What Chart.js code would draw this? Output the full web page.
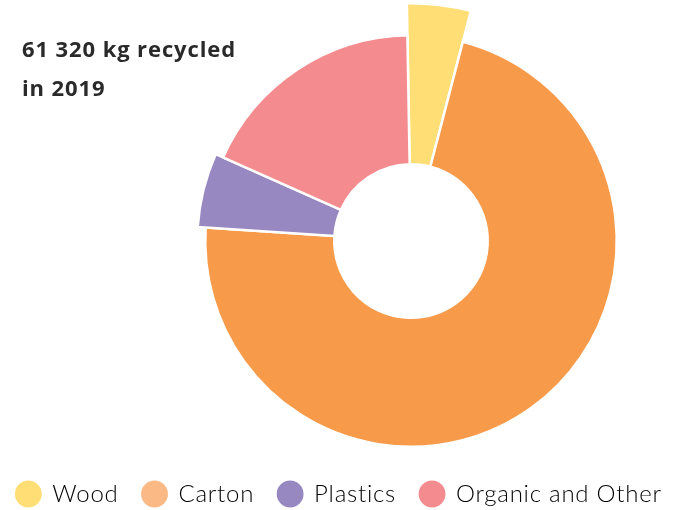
<!DOCTYPE html>
<html>
<head>
<meta charset="utf-8">
<script src="https://cdn.jsdelivr.net/npm/chart.js@4"></script>
<style>
  html, body { margin: 0; padding: 0; background: #fff; }
  #wrap { position: relative; width: 678px; height: 510px; }
  #title { position: absolute; left: 22px; top: 29px; font-family: "Open Sans", sans-serif; font-weight: 700;
           font-size: 22px; line-height: 39px; color: #2a2a2a; letter-spacing: 0.9px; white-space: nowrap; }
  canvas { position: absolute; left: 0; top: 0; }
</style>
</head>
<body>
<div id="wrap">
  <canvas id="c" width="678" height="510"></canvas>
  <div id="title">61 320 kg recycled<br>in 2019</div>
</div>
<script>
const categories = ['Wood', 'Carton', 'Plastics', 'Organic and Other'];
const recycledKg = [2655, 44150, 3440, 11075];

const sliceColors = ['#FFDF75', '#F79A4A', '#9888C2', '#F48C8F'];
const legendColors = ['#FFDF75', '#FBBA85', '#9888C2', '#F48C8F'];
const extraRadius = [32, 0, 8, 0];

const layoutPlugin = {
  id: 'centerShift',
  beforeUpdate(chart) { chart.ctx.letterSpacing = '0.75px'; },
  beforeDraw(chart) { chart.ctx.letterSpacing = '0.75px'; },
  afterLayout(chart) {
    const a = chart.chartArea;
    const cx = 411, cy = 241, r = 207;
    a.left = cx - r; a.right = cx + r; a.top = cy - r; a.bottom = cy + r;
    a.width = 2 * r; a.height = 2 * r;
  },
  afterDatasetsUpdate(chart) {
    const meta = chart.getDatasetMeta(0);
    meta.data.forEach((arc, i) => {
      arc.outerRadius = arc.outerRadius + extraRadius[i];
    });
  }
};

new Chart(document.getElementById('c'), {
  type: 'doughnut',
  data: {
    labels: categories,
    datasets: [{
      data: recycledKg,
      backgroundColor: sliceColors,
      borderColor: '#ffffff',
      borderWidth: 2.5
    }]
  },
  options: {
    responsive: false,
    animation: false,
    events: [],
    rotation: -1,
    cutout: '37.3%',
    layout: { padding: { bottom: -6, left: -30, right: -30 } },
    plugins: {
      tooltip: { enabled: false },
      legend: {
        position: 'bottom',
        labels: {
          usePointStyle: true,
          pointStyle: 'circle',
          boxWidth: 25,
          boxHeight: 19,
          padding: 24,
          color: '#333333',
          font: { family: 'Lato, sans-serif', size: 24, weight: '300' },
          generateLabels(chart) {
            return categories.map((t, i) => ({
              text: t,
              fillStyle: legendColors[i],
              strokeStyle: legendColors[i],
              lineWidth: 0,
              pointStyle: 'circle',
              hidden: false,
              index: i,
              datasetIndex: 0
            }));
          }
        }
      }
    }
  },
  plugins: [layoutPlugin]
});
</script>
</body>
</html>
